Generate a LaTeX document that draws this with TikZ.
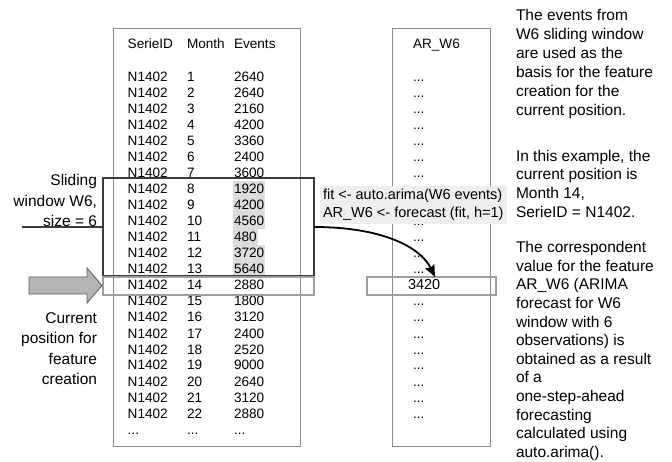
\documentclass[tikz,border=0pt]{standalone}
\usepackage{fontspec}
\setmainfont{Liberation Sans}
\usetikzlibrary{arrows.meta}
\definecolor{boxgray}{HTML}{8C8C8C}
\definecolor{curgray}{HTML}{9E9E9E}
\definecolor{wingray}{HTML}{3A3A3A}
\definecolor{hlgray}{HTML}{DCDCDC}
\definecolor{codebg}{HTML}{EEEEEE}
\definecolor{arrfill}{HTML}{B4B4B4}
\definecolor{arrline}{HTML}{5A5A5A}
\newcommand{\tabfont}{\fontsize{13.6}{16}\selectfont}
\begin{document}
\begin{tikzpicture}[x=1pt,y=-1pt,
  cell/.style={anchor=base west,inner xsep=1pt,inner ysep=0pt,outer sep=0pt,font=\tabfont,text height=13pt,text depth=3pt},
  dotcell/.style={anchor=base west,inner sep=0pt,outer sep=0pt,font=\tabfont},
  hl/.style={cell,fill=hlgray},
  tabbox/.style={draw=boxgray,line width=1pt,inner sep=0pt,outer sep=0pt},
  winbox/.style={draw=wingray,line width=1.4pt,inner sep=0pt,outer sep=0pt},
  curbox/.style={draw=curgray,line width=2pt,inner sep=0pt,outer sep=0pt},
  para/.style={inner sep=0pt,outer sep=0pt,align=left,anchor=north west},
  sidelbl/.style={inner sep=0pt,outer sep=0pt,align=right,anchor=north east,font=\fontsize{15.5}{20.5}\selectfont}
]
\useasboundingbox (0,0) rectangle (672,462);
% table boxes
\node[tabbox,minimum width=187pt,minimum height=417pt] (lt) at (206.5,237.5) {};
\node[tabbox,minimum width=98pt,minimum height=417pt] (rt) at (441,237.5) {};
% headers
\node[cell] (hs) at (126.7,49) {SerieID};
\node[cell] (hm) at (186,49) {Month};
\node[cell] (he) at (233,49) {Events};
\node[cell] (har) at (412,49) {AR\_W6};
% rows
\foreach \m/\e [count=\i] in {1/2640,2/2640,3/2160,4/4200,5/3360,6/2400,7/3600,8/1920,9/4200,10/4560,11/480,12/3720,13/5640,14/2880,15/1800,16/3120,17/2400,18/2520,19/9000,20/2640,21/3120,22/2880}{
  \pgfmathsetmacro{\yb}{82+16*(\i-1)}
  \node[cell] (s\i) at (126.7,\yb) {N1402};
  \node[cell] (m\i) at (186,\yb) {\m};
  \ifnum\i>7 \ifnum\i<14
    \node[hl] (e\i) at (233,\yb) {\e};
  \else
    \node[cell] (e\i) at (233,\yb) {\e};
  \fi\else
    \node[cell] (e\i) at (233,\yb) {\e};
  \fi
}
\node[dotcell] (sd) at (127.7,434) {...};
\node[dotcell] (md) at (187,434) {...};
\node[dotcell] (ed) at (234,434) {...};
% right column dots
\foreach \i in {1,...,7,10,11,12,13,15,16,17,18,19,20,21,22}{
  \pgfmathsetmacro{\yb}{82+16*(\i-1)}
  \node[dotcell] (r\i) at (413,\yb) {...};
}
\node[dotcell,font=\fontsize{14.5}{16}\selectfont] (r14) at (408,290) {3420};
% window and current rows
\node[winbox,minimum width=211pt,minimum height=98pt] (win) at (208.5,227) {};
\node[curbox,minimum width=211pt,minimum height=18pt] (cur1) at (208.5,286) {};
\node[curbox,minimum width=129pt,minimum height=18pt] (cur2) at (431.5,286) {};
% side labels
\node[sidelbl] (wlbl) at (97,174.3) {Sliding\\window W6,\\size = 6};
\coordinate (wl) at (22,227);
\draw[wingray,line width=1.2pt] (wl) -- (win.west);
\node[sidelbl] (clbl) at (97,312.3) {Current\\position for\\feature\\creation};
\draw[fill=arrfill,draw=arrline,line width=0.8pt] (29,277) -- (87,277) -- (87,268) -- (102,285.5) -- (87,303) -- (87,294) -- (29,294) -- cycle;
% code label
\node[para,fill=codebg,inner xsep=3pt,inner ysep=3pt,font=\fontsize{14.5}{18}\selectfont] (code) at (320,186) {fit <- auto.arima(W6 events)\\AR\_W6 <- forecast (fit, h=1)};
% curved arrow
\coordinate (tip) at (435,277);
\draw[black,line width=1.8pt,-{Stealth[length=12pt,width=10pt,inset=2pt]}] (win.east) .. controls (380,227) and (420,246) .. (tip);
% right text
\node[para,font=\fontsize{15.5}{19}\selectfont] (p1) at (516,9.4) {The events from\\W6 sliding window\\are used as the\\basis for the feature\\creation for the\\current position.};
\node[para,font=\fontsize{15.5}{18.7}\selectfont] (p2) at (516,150) {In this example, the\\current position is\\Month 14,\\SerieID = N1402.};
\node[para,font=\fontsize{15.5}{18.6}\selectfont] (p3) at (516,241.5) {The correspondent\\value for the feature\\AR\_W6 (ARIMA\\forecast for W6\\window with 6\\observations) is\\obtained as a result\\of a\\one-step-ahead\\forecasting\\calculated using\\auto.arima().};
\end{tikzpicture}
\end{document}
